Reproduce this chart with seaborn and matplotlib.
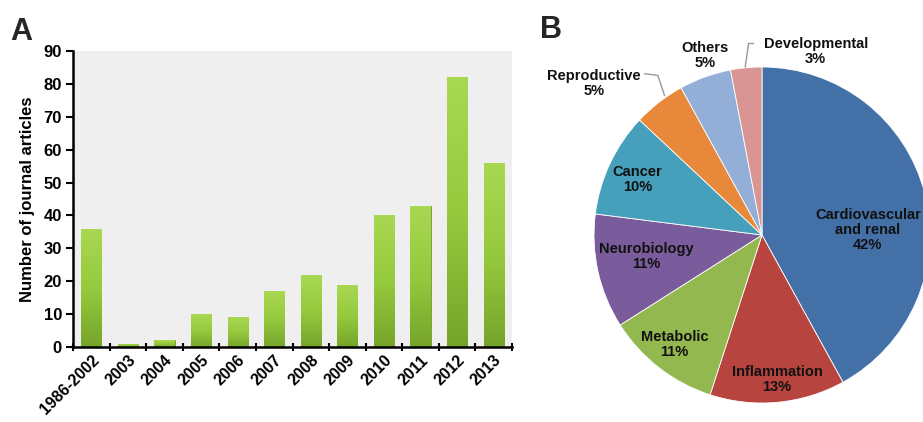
import numpy as np
import pandas as pd
import matplotlib
matplotlib.use("Agg")
import matplotlib.pyplot as plt
import seaborn as sns
from matplotlib.colors import LinearSegmentedColormap

# ---------------- data ----------------
years = ["1986-2002", "2003", "2004", "2005", "2006", "2007", "2008",
         "2009", "2010", "2011", "2012", "2013"]
articles = [36, 1, 2, 10, 9, 17, 22, 19, 40, 43, 82, 56]
y_ticks = [0, 10, 20, 30, 40, 50, 60, 70, 80, 90]

pie_labels = ["Cardiovascular\nand renal", "Inflammation", "Metabolic",
              "Neurobiology", "Cancer", "Reproductive", "Others", "Developmental"]
pie_values = [42, 13, 11, 11, 10, 5, 5, 3]
pie_colors = ["#4470a8", "#b8443f", "#93b84f", "#7a5c9c", "#46a0bc",
              "#e8883a", "#93afd8", "#d89594"]

sns.set_theme(style="white")
plt.rcParams["font.family"] = ["Liberation Sans", "DejaVu Sans"]

fig = plt.figure(figsize=(9.23, 4.22), dpi=100)

# ---------------- panel A ----------------
ax = fig.add_axes([73 / 923, 1 - 347 / 422, (512 - 73) / 923, (347 - 51) / 422])
df = pd.DataFrame({"year": years, "n": articles})
sns.barplot(data=df, x="year", y="n", ax=ax, color="#8dc23c", width=0.55,
            edgecolor="#6f9a2a", linewidth=0.6, saturation=1)
ax.set_facecolor("#efefef")

# vertical gradient on each bar
cmap = LinearSegmentedColormap.from_list("g", ["#76a42a", "#96ca3e", "#a9d852"])
grad = np.linspace(0, 1, 256).reshape(-1, 1)
for p in ax.patches:
    x0, y0 = p.get_x(), p.get_y()
    w, h = p.get_width(), p.get_height()
    im = ax.imshow(grad, extent=[x0, x0 + w, y0, y0 + h], origin="lower",
                   cmap=cmap, aspect="auto", zorder=p.get_zorder() + 0.1)
    im.set_clip_path(p)
ax.set_xlim(-0.5, len(years) - 0.5)
ax.set_ylim(0, 90)
ax.set_yticks(y_ticks)
ax.set_xlabel("")
ax.set_ylabel("Number of journal articles", fontsize=12, fontweight="bold",
              labelpad=6, color="black")
for s in ["top", "right"]:
    ax.spines[s].set_visible(False)
for s in ["left", "bottom"]:
    ax.spines[s].set_color("black")
    ax.spines[s].set_linewidth(1.8)
ax.set_xticks(np.arange(-0.5, len(years), 1.0), minor=True)
ax.tick_params(axis="x", which="major", length=0, pad=4)
ax.tick_params(axis="x", which="minor", length=6, width=1.5, direction="inout",
               color="black", bottom=True)
ax.tick_params(axis="y", length=5, width=1.5, direction="out", color="black",
               left=True, pad=3)
for t in ax.get_xticklabels():
    t.set_rotation(45)
    t.set_ha("right")
    t.set_rotation_mode("anchor")
    t.set_fontweight("bold")
    t.set_fontsize(11.5)
    t.set_color("black")
for t in ax.get_yticklabels():
    t.set_fontweight("bold")
    t.set_fontsize(12)
    t.set_color("black")

fig.text(10 / 923, 1 - 40 / 422, "A", fontsize=22, fontweight="bold")

# ---------------- panel B ----------------
cx, cy, r = 762, 235, 168
axp = fig.add_axes([(cx - r) / 923, (422 - cy - r) / 422, 2 * r / 923, 2 * r / 422])
axp.pie(pie_values, colors=pie_colors, startangle=90, counterclock=False,
        radius=1, wedgeprops=dict(edgecolor="white", linewidth=0.6))
axp.set_xlim(-1, 1)
axp.set_ylim(-1, 1)
axp.set_aspect("equal")
axp.axis("off")

inner_pos = [(0.63, 0.03), (0.09, -0.86), (-0.52, -0.65), (-0.69, -0.13),
             (-0.74, 0.33)]
for i, (px, py) in enumerate(inner_pos):
    axp.text(px, py, f"{pie_labels[i]}\n{pie_values[i]}%", ha="center",
             va="center", fontsize=10.5, fontweight="bold", color="#111111",
             linespacing=1.1)

outer_pos = [(-1.0, 0.9), (-0.34, 1.07), (0.32, 1.09)]
for j, (px, py) in enumerate(outer_pos):
    i = 5 + j
    axp.text(px, py, f"{pie_labels[i]}\n{pie_values[i]}%", ha="center",
             va="center", fontsize=10.5, fontweight="bold", color="#111111",
             linespacing=1.1, clip_on=False)

# leader lines
axp.plot([-0.70, -0.62, -0.58], [0.96, 0.95, 0.83], color="#999999", lw=1,
         clip_on=False)
axp.plot([-0.05, -0.08, -0.10], [1.14, 1.14, 1.0], color="#999999", lw=1,
         clip_on=False)

fig.text(540 / 923, 1 - 38 / 422, "B", fontsize=22, fontweight="bold")

fig.savefig("out.png", dpi=100)
